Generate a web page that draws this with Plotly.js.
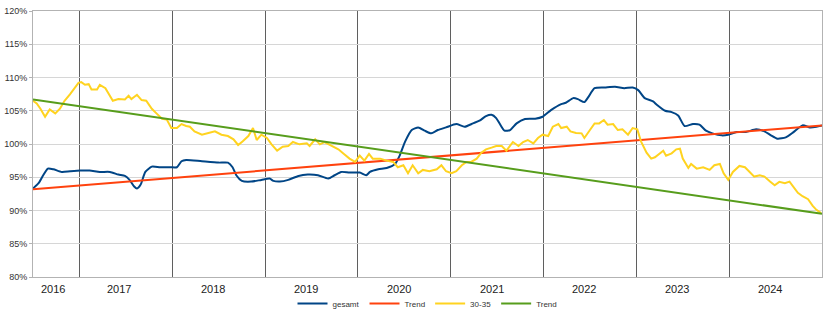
<!DOCTYPE html>
<html>
<head>
<meta charset="utf-8">
<script src="https://cdn.plot.ly/plotly-3.0.1.min.js"></script>
<style>html,body{margin:0;padding:0;background:#fff;}#chart{width:830px;height:326px;}</style>
</head>
<body>
<div id="chart"></div>
<script>
// Time axis in decimal years
const gesamtX = [2016.50,2016.56,2016.61,2016.66,2016.72,2016.81,2016.90,2017.01,2017.11,2017.22,2017.33,2017.42,2017.49,2017.54,2017.59,2017.62,2017.66,2017.71,2017.78,2017.87,2017.98,2018.05,2018.10,2018.15,2018.32,2018.50,2018.60,2018.65,2018.69,2018.75,2018.85,2018.96,2019.05,2019.09,2019.16,2019.25,2019.36,2019.46,2019.57,2019.68,2019.75,2019.82,2019.91,2020.02,2020.09,2020.13,2020.22,2020.31,2020.40,2020.45,2020.51,2020.58,2020.65,2020.72,2020.79,2020.86,2020.95,2021.06,2021.15,2021.24,2021.31,2021.38,2021.44,2021.49,2021.53,2021.58,2021.64,2021.71,2021.80,2021.91,2021.99,2022.08,2022.19,2022.24,2022.32,2022.37,2022.44,2022.48,2022.55,2022.66,2022.77,2022.87,2022.96,2023.02,2023.09,2023.18,2023.22,2023.31,2023.38,2023.45,2023.52,2023.61,2023.68,2023.75,2023.82,2023.92,2023.99,2024.08,2024.18,2024.29,2024.38,2024.45,2024.52,2024.61,2024.69,2024.79,2024.87,2024.94,2025.00];
const gesamtY = [93.3,94.1,95.3,96.3,96.2,95.8,95.9,96.0,96.0,95.8,95.8,95.4,95.2,94.6,93.6,93.3,93.9,95.8,96.6,96.5,96.5,96.5,97.4,97.6,97.4,97.2,97.2,96.5,95.3,94.45,94.35,94.6,94.8,94.45,94.35,94.6,95.2,95.4,95.3,94.8,95.3,95.8,95.7,95.7,95.3,95.8,96.2,96.4,97.0,98.25,100.4,102.1,102.5,102.0,101.6,102.1,102.5,103.0,102.6,103.1,103.5,104.2,104.4,103.9,103.0,102.0,102.1,103.1,103.75,103.8,104.1,105.1,106.0,106.2,106.9,106.75,106.3,107.0,108.4,108.5,108.6,108.4,108.5,108.1,106.9,106.4,105.9,105.0,104.8,104.3,102.7,103.0,102.9,102.0,101.6,101.3,101.4,101.8,101.8,102.2,101.9,101.3,100.8,101.0,101.75,102.8,102.5,102.6,102.8];

const a3035X = [2016.50,2016.54,2016.58,2016.63,2016.68,2016.74,2016.79,2016.84,2016.90,2016.95,2016.99,2017.02,2017.06,2017.10,2017.13,2017.19,2017.22,2017.28,2017.33,2017.36,2017.42,2017.49,2017.53,2017.56,2017.62,2017.67,2017.72,2017.78,2017.83,2017.89,2017.94,2017.99,2018.05,2018.10,2018.15,2018.19,2018.24,2018.32,2018.39,2018.46,2018.53,2018.60,2018.66,2018.71,2018.76,2018.82,2018.87,2018.91,2018.96,2019.02,2019.07,2019.13,2019.19,2019.25,2019.30,2019.37,2019.45,2019.48,2019.54,2019.59,2019.64,2019.72,2019.79,2019.85,2019.91,2019.97,2020.02,2020.07,2020.12,2020.16,2020.24,2020.31,2020.38,2020.43,2020.49,2020.54,2020.59,2020.65,2020.70,2020.77,2020.85,2020.90,2020.95,2021.01,2021.06,2021.12,2021.17,2021.22,2021.28,2021.33,2021.38,2021.44,2021.49,2021.55,2021.60,2021.67,2021.73,2021.78,2021.83,2021.89,2021.94,2021.99,2022.05,2022.10,2022.16,2022.19,2022.25,2022.29,2022.35,2022.41,2022.44,2022.50,2022.55,2022.60,2022.65,2022.69,2022.75,2022.80,2022.85,2022.91,2022.96,2023.01,2023.05,2023.11,2023.16,2023.20,2023.25,2023.29,2023.32,2023.38,2023.43,2023.47,2023.50,2023.56,2023.59,2023.65,2023.72,2023.79,2023.84,2023.90,2023.94,2023.99,2024.04,2024.11,2024.17,2024.22,2024.27,2024.33,2024.38,2024.44,2024.49,2024.54,2024.60,2024.65,2024.69,2024.74,2024.79,2024.85,2024.90,2024.94,2024.99];
const a3035Y = [106.5,106.1,105.3,104.1,105.2,104.6,105.3,106.5,107.5,108.5,109.2,109.3,108.9,109.0,108.2,108.2,108.9,108.4,107.25,106.5,106.75,106.7,107.25,106.75,107.4,106.6,106.5,105.3,104.6,103.8,103.7,102.4,102.4,103.0,102.7,102.6,101.9,101.4,101.65,101.9,101.4,101.2,100.7,99.85,100.4,101.2,102.4,100.6,101.4,100.9,99.95,99.0,99.6,99.7,100.3,99.95,100.1,99.7,100.7,99.95,100.3,99.7,99.2,98.5,97.8,97.3,98.25,97.5,98.5,97.8,97.8,97.5,97.3,96.5,96.8,95.6,96.8,95.6,96.1,95.9,96.2,96.8,95.9,95.6,95.9,96.8,97.3,97.3,97.8,98.7,99.2,99.45,99.7,99.7,99.0,100.3,99.7,100.3,100.6,100.1,100.9,101.4,101.2,102.6,103.0,102.4,102.6,101.9,101.65,101.6,100.9,102.1,103.1,103.1,103.6,102.9,103.0,102.1,102.2,101.4,102.4,102.2,100.4,98.7,97.8,98.0,98.5,99.0,98.25,98.6,99.2,99.3,97.8,96.4,97.0,96.3,96.5,96.1,96.8,97.0,95.6,94.6,95.8,96.7,96.5,95.8,95.1,95.3,95.1,94.35,93.8,94.3,94.1,94.35,93.6,92.65,92.15,91.7,90.7,90.1,89.6];

const trendX = [2016.5, 2025.0];
const trendGesamtY = [93.2, 102.8];
const trend3035Y = [106.7, 89.5];

const yearBoundaries = [2017, 2018, 2019, 2020, 2021, 2022, 2023, 2024];
const yearLabels = ['2016','2017','2018','2019','2020','2021','2022','2023','2024'];
const yearLabelPos = [2016.72, 2017.43, 2018.44, 2019.44, 2020.44, 2021.44, 2022.44, 2023.44, 2024.44];
const yTicks = [80, 85, 90, 95, 100, 105, 110, 115, 120];
const yTickText = ['80%', '85%', '90%', '95%', '100%', '105%', '110%', '115%', '120%'];

const FONT = 'Liberation Sans, Arial, sans-serif';

const traces = [
  {x: gesamtX, y: gesamtY, name: 'gesamt', mode: 'lines', line: {color: '#004586', width: 2, shape: 'spline', smoothing: 0.6}},
  {x: trendX, y: trendGesamtY, name: 'Trend', mode: 'lines', line: {color: '#ff420e', width: 2}},
  {x: a3035X, y: a3035Y, name: '30-35', mode: 'lines', line: {color: '#ffd320', width: 2}},
  {x: trendX, y: trend3035Y, name: 'Trend', mode: 'lines', line: {color: '#579d1c', width: 2}}
];

const annotations = yearLabels.map((t, i) => ({
  text: t, x: yearLabelPos[i], xref: 'x', y: 0, yref: 'paper',
  yanchor: 'middle', xanchor: 'center', yshift: -12, showarrow: false,
  font: {family: FONT, size: 11, color: '#222'}
}));

const layout = {
  width: 830, height: 326,
  margin: {l: 33, r: 8, t: 11, b: 41},
  paper_bgcolor: '#ffffff', plot_bgcolor: '#ffffff',
  showlegend: true,
  legend: {orientation: 'h', x: 0.5, xanchor: 'center', y: -0.1, yanchor: 'middle',
           font: {family: FONT, size: 8, color: '#333'}, itemwidth: 30, tracegroupgap: 0},
  xaxis: {range: [2016.5, 2025.0], tickmode: 'array', tickvals: yearBoundaries, showticklabels: false,
          showgrid: true, gridcolor: '#5f5f5f', gridwidth: 1, zeroline: false,
          showline: true, linecolor: '#b3b3b3', linewidth: 1, mirror: true, ticks: ''},
  yaxis: {range: [80, 120], tickmode: 'array', tickvals: yTicks, ticktext: yTickText, showgrid: true,
          gridcolor: '#d6d6d6', gridwidth: 1, zeroline: false, showline: true,
          linecolor: '#b3b3b3', linewidth: 1, mirror: true, ticks: 'outside', ticklen: 3, tickcolor: '#b3b3b3',
          tickfont: {family: FONT, size: 9, color: '#333'}},
  annotations: annotations
};

Plotly.newPlot('chart', traces, layout, {displayModeBar: false, staticPlot: true});
</script>
</body>
</html>
